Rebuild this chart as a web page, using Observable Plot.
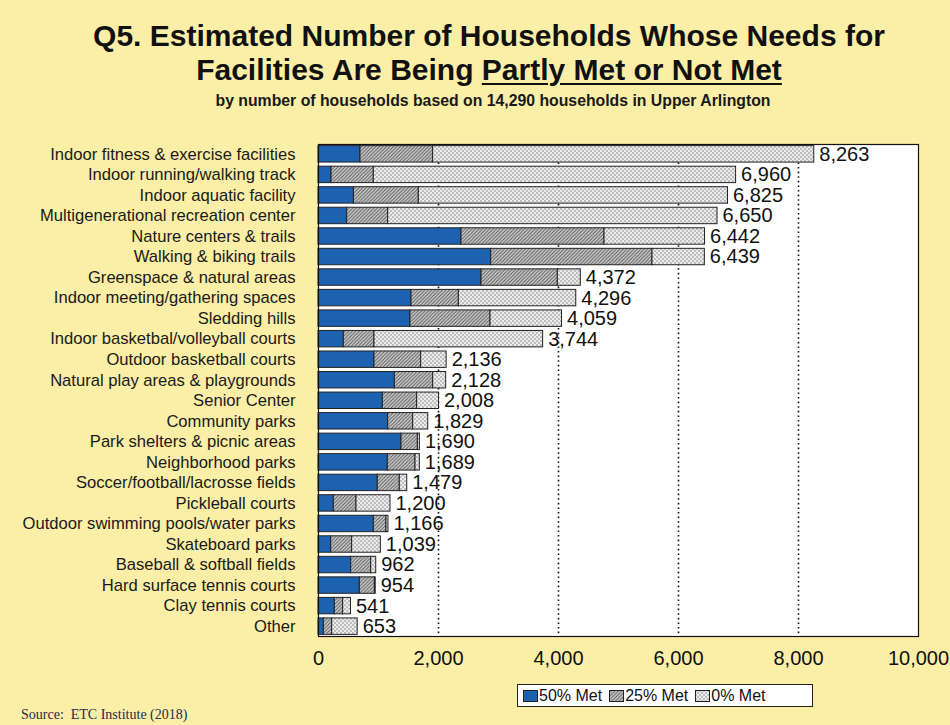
<!DOCTYPE html>
<html>
<head>
<meta charset="utf-8">
<script src="https://cdn.jsdelivr.net/npm/d3@7"></script>
<script src="https://cdn.jsdelivr.net/npm/@observablehq/plot@0.6"></script>
<style>
  html, body { margin: 0; padding: 0; background: #fbeea6; }
  #wrap { position: relative; width: 950px; height: 725px; overflow: hidden; background: #fbeea6; font-family: "Liberation Sans", Arial, sans-serif; color: #111; }
  .title { position: absolute; left: 0; width: 978px; text-align: center; font-weight: bold; white-space: nowrap; color: #111; }
  #t1 { top: 21px; font-size: 30px; line-height: 30px; }
  #t2 { top: 55px; font-size: 30px; line-height: 30px; }
  #t2 u { text-decoration-thickness: 2px; text-underline-offset: 3px; }
  #sub { top: 93px; font-size: 15.8px; line-height: 16px; left: 4px; color: #1a1a1a; }
  #chart { position: absolute; left: 0; top: 120px; }
  #legend { position: absolute; left: 517px; top: 684px; width: 289px; height: 21px; border: 1px solid #222; background: #fff; display: flex; align-items: center; font-size: 16px; padding-left: 5px; box-sizing: content-box; }
  #legend .item { display: flex; align-items: center; margin-right: 7px; }
  #legend svg { margin-right: 1px; }
  #source { position: absolute; left: 21px; top: 707px; font-family: "Liberation Serif", "Times New Roman", serif; font-size: 14px; color: #1f2c4c; white-space: nowrap; }
</style>
</head>
<body>
<div id="wrap">
  <div class="title" id="t1">Q5. Estimated Number of Households Whose Needs for</div>
  <div class="title" id="t2">Facilities Are Being <u>Partly Met or Not Met</u></div>
  <div class="title" id="sub">by number of households based on 14,290 households in Upper Arlington</div>
  <div id="chart"></div>
  <div id="legend"></div>
  <div id="source">Source:&nbsp; ETC Institute (2018)</div>
</div>
<script>
const categories = [
  "Indoor fitness & exercise facilities",
  "Indoor running/walking track",
  "Indoor aquatic facility",
  "Multigenerational recreation center",
  "Nature centers & trails",
  "Walking & biking trails",
  "Greenspace & natural areas",
  "Indoor meeting/gathering spaces",
  "Sledding hills",
  "Indoor basketbal/volleyball courts",
  "Outdoor basketball courts",
  "Natural play areas & playgrounds",
  "Senior Center",
  "Community parks",
  "Park shelters & picnic areas",
  "Neighborhood parks",
  "Soccer/football/lacrosse fields",
  "Pickleball courts",
  "Outdoor swimming pools/water parks",
  "Skateboard parks",
  "Baseball & softball fields",
  "Hard surface tennis courts",
  "Clay tennis courts",
  "Other"
];
// segment sizes
const met50 = [700, 217, 590, 478, 2383, 2878, 2717, 1550, 1533, 422, 933, 1272, 1072, 1161, 1383, 1155, 988, 255, 922, 211, 545, 689, 272, 89];
const met25 = [1210, 705, 1082, 683, 2384, 2689, 1272, 789, 1334, 511, 778, 639, 572, 417, 273, 462, 367, 378, 211, 350, 333, 251, 139, 139];
const met0  = [6353, 6038, 5153, 5489, 1675, 872, 383, 1957, 1192, 2811, 425, 217, 364, 251, 34, 72, 124, 567, 33, 478, 84, 14, 130, 425];
const totals = [8263, 6960, 6825, 6650, 6442, 6439, 4372, 4296, 4059, 3744, 2136, 2128, 2008, 1829, 1690, 1689, 1479, 1200, 1166, 1039, 962, 954, 541, 653];
const seriesKeys = ["50% Met", "25% Met", "0% Met"];
const xTicks = [0, 2000, 4000, 6000, 8000, 10000];
const gridValues = [2000, 4000, 6000, 8000];

const seriesFill = ["#1d62b0", "url(#hatch)", "url(#dots)"];

const rows = [];
categories.forEach((c, i) => {
  rows.push({category: c, key: seriesKeys[0], value: met50[i]});
  rows.push({category: c, key: seriesKeys[1], value: met25[i]});
  rows.push({category: c, key: seriesKeys[2], value: met0[i]});
});
const labelRows = categories.map((c, i) => ({category: c, total: totals[i]}));
const fmt = d3.format(",");

const chart = Plot.plot({
  width: 950,
  height: 580,
  marginLeft: 318,
  marginRight: 32,
  marginTop: 24,
  marginBottom: 64,
  style: {background: "transparent", fontFamily: "'Liberation Sans', Arial, sans-serif", color: "#111", overflow: "visible"},
  x: {domain: [0, 10000]},
  y: {domain: categories, paddingInner: 0.2, paddingOuter: 0.08, round: false},
  color: {domain: seriesKeys, range: seriesFill},
  marks: [
    Plot.frame({fill: "#ffffff", stroke: "none"}),
    Plot.ruleX(gridValues, {stroke: "#111", strokeWidth: 1.6, strokeDasharray: "1.6,3"}),
    Plot.barX(rows, {x: "value", y: "category", fill: "key", stroke: "#222", strokeWidth: 1}),
    Plot.text(labelRows, {x: "total", y: "category", text: d => fmt(d.total), textAnchor: "start", dx: 5, fontSize: 20, fill: "#111"}),
    Plot.axisX({ticks: xTicks, tickSize: 0, tickPadding: 14, fontSize: 20, tickFormat: fmt, label: null}),
    Plot.axisY({tickSize: 0, tickPadding: 23, fontSize: 16.6, label: null, fill: "#1a1a1a"}),
    Plot.frame({stroke: "#111", strokeWidth: 1.2})
  ]
});

const defs = document.createElementNS("http://www.w3.org/2000/svg", "defs");
defs.innerHTML = `
  <pattern id="hatch" patternUnits="userSpaceOnUse" width="3.5" height="3.5">
    <rect width="3.5" height="3.5" fill="#d0d0d0"/>
    <path d="M-1,1 L1,-1 M0,3.5 L3.5,0 M2.5,4.5 L4.5,2.5" stroke="#555" stroke-width="1"/>
  </pattern>
  <pattern id="dots" patternUnits="userSpaceOnUse" width="4" height="4">
    <rect width="4" height="4" fill="#ebebeb"/>
    <circle cx="1" cy="1" r="0.75" fill="#7a7a7a"/>
    <circle cx="3" cy="3" r="0.75" fill="#7a7a7a"/>
  </pattern>`;
chart.insertBefore(defs, chart.firstChild);
document.getElementById("chart").appendChild(chart);

// legend
const legend = document.getElementById("legend");
seriesKeys.forEach((k, i) => {
  const item = document.createElement("div");
  item.className = "item";
  item.innerHTML = `<svg width="15" height="12"><rect x="0.5" y="0.5" width="14" height="11" fill="${seriesFill[i]}" stroke="#222"/></svg><span>${k}</span>`;
  legend.appendChild(item);
});
</script>
</body>
</html>
